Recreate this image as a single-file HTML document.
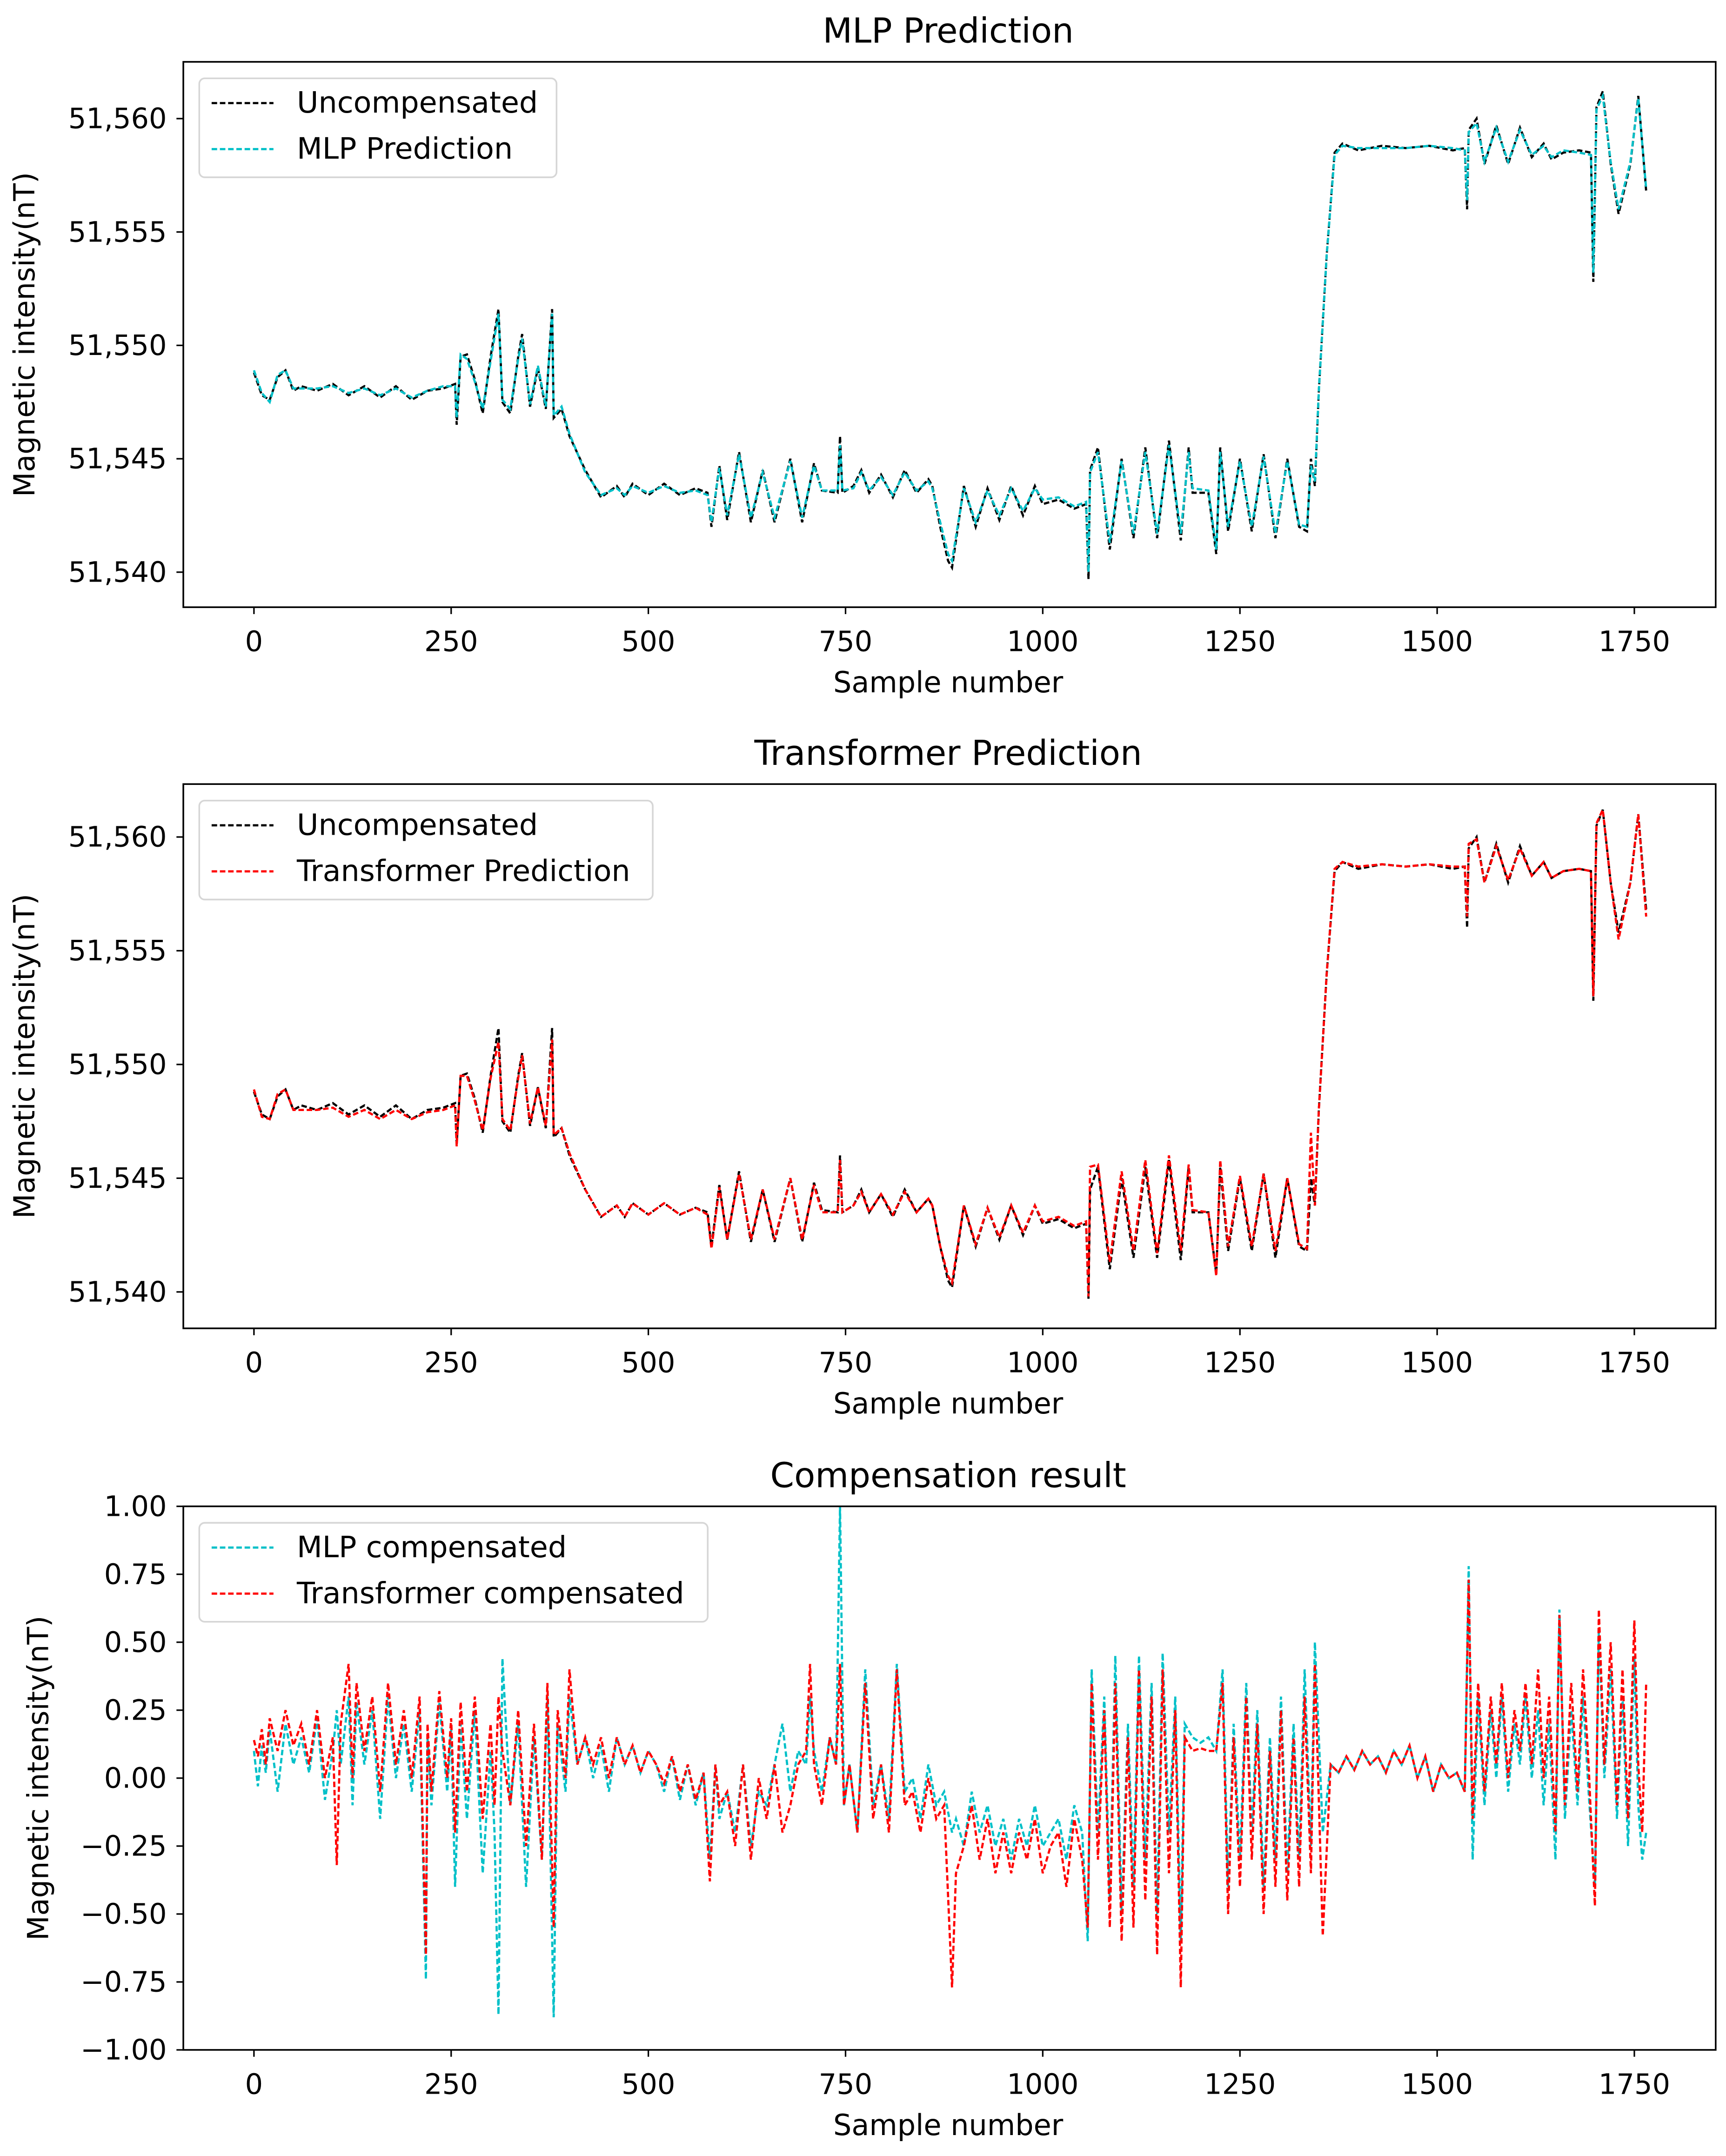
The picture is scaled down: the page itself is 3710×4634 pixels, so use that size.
<!DOCTYPE html>
<html><head><meta charset="utf-8"><style>html,body{margin:0;padding:0;background:#fff}svg{display:block}text{font-family:"DejaVu Sans","Liberation Sans",sans-serif;fill:#000}</style></head>
<body>
<svg id="fig" width="3710" height="4634" viewBox="0 0 1256 1568.7" preserveAspectRatio="none" xmlns="http://www.w3.org/2000/svg"></svg>
<script>
const xTicks=[0,250,500,750,1000,1250,1500,1750];
const yTicksTop=[51540,51545,51550,51555,51560];
const yTicksBottom=[-1,-0.75,-0.5,-0.25,0,0.25,0.5,0.75,1];
const unX=[0,10,20,30,40,50,60,80,100,120,140,160,180,200,220,240,255,257,262,270,280,290,300,310,315,325,335,340,350,360,370,378,380,390,400,420,440,460,470,480,500,520,540,560,575,580,590,600,615,630,645,660,680,695,710,720,740,743,746,760,770,780,795,810,825,840,855,860,870,880,885,900,915,930,945,960,975,990,1000,1020,1040,1055,1058,1060,1070,1085,1100,1115,1130,1145,1160,1175,1185,1190,1210,1220,1225,1235,1250,1265,1280,1295,1310,1325,1335,1340,1345,1350,1360,1370,1380,1400,1430,1460,1490,1520,1535,1538,1540,1550,1560,1575,1590,1605,1620,1635,1645,1660,1680,1695,1698,1702,1710,1720,1730,1745,1755,1765];
const unVals=[51548.8,51547.8,51547.6,51548.6,51548.9,51548.0,51548.2,51548.0,51548.3,51547.8,51548.2,51547.7,51548.2,51547.6,51548.0,51548.1,51548.3,51546.5,51549.5,51549.6,51548.5,51547.0,51549.5,51551.6,51547.5,51547.0,51549.5,51550.5,51547.3,51549.0,51547.2,51551.6,51546.8,51547.2,51546.0,51544.5,51543.3,51543.8,51543.3,51543.9,51543.4,51543.9,51543.4,51543.7,51543.5,51542.0,51544.7,51542.3,51545.3,51542.2,51544.5,51542.2,51545.0,51542.2,51544.8,51543.6,51543.5,51546.0,51543.5,51543.8,51544.5,51543.5,51544.3,51543.3,51544.5,51543.5,51544.1,51543.8,51542.0,51540.5,51540.2,51543.8,51542.0,51543.7,51542.3,51543.8,51542.5,51543.8,51543.0,51543.2,51542.8,51543.0,51539.7,51544.5,51545.5,51541.0,51545.0,51541.5,51545.5,51541.5,51545.8,51541.4,51545.5,51543.5,51543.5,51540.8,51545.5,51541.8,51545.0,51541.8,51545.2,51541.5,51545.0,51542.0,51541.8,51545.0,51543.8,51548.0,51554.0,51558.5,51558.9,51558.6,51558.8,51558.7,51558.8,51558.6,51558.7,51556.0,51559.5,51560.0,51558.0,51559.7,51558.0,51559.6,51558.3,51558.9,51558.2,51558.5,51558.6,51558.5,51552.8,51560.5,51561.2,51558.0,51555.8,51558.0,51561.0,51556.8];
const mlpVals=[51548.9,51547.9,51547.5,51548.7,51548.9,51548.1,51548.1,51548.1,51548.2,51547.9,51548.1,51547.8,51548.1,51547.7,51548.0,51548.2,51548.2,51546.8,51549.6,51549.4,51548.4,51547.2,51549.3,51551.4,51547.6,51547.2,51549.4,51550.3,51547.4,51549.1,51547.3,51551.4,51546.9,51547.3,51546.1,51544.4,51543.4,51543.7,51543.4,51543.8,51543.5,51543.8,51543.5,51543.6,51543.4,51542.2,51544.6,51542.5,51545.2,51542.4,51544.4,51542.4,51544.9,51542.4,51544.7,51543.6,51543.6,51545.6,51543.6,51543.7,51544.4,51543.6,51544.2,51543.4,51544.4,51543.6,51544.0,51543.7,51542.2,51540.8,51540.5,51543.7,51542.2,51543.6,51542.5,51543.7,51542.7,51543.7,51543.2,51543.3,51542.9,51543.1,51540.0,51544.4,51545.3,51541.3,51544.9,51541.7,51545.3,51541.7,51545.6,51541.7,51545.3,51543.7,51543.6,51541.0,51545.3,51542.0,51544.9,51542.0,51545.1,51541.7,51544.9,51542.1,51542.0,51544.7,51544.0,51548.0,51554.0,51558.4,51558.8,51558.7,51558.7,51558.7,51558.8,51558.7,51558.6,51556.4,51559.4,51559.8,51558.1,51559.6,51558.1,51559.5,51558.4,51558.8,51558.3,51558.6,51558.5,51558.4,51553.2,51560.4,51561.0,51558.1,51556.0,51558.1,51560.9,51556.9];
const trfVals=[51548.9,51547.7,51547.6,51548.7,51548.9,51548.0,51548.0,51548.0,51548.1,51547.7,51548.0,51547.6,51548.0,51547.6,51547.9,51548.0,51548.2,51546.4,51549.5,51549.5,51548.4,51547.1,51549.4,51551.0,51547.6,51547.1,51549.4,51550.4,51547.4,51549.0,51547.3,51551.1,51546.9,51547.2,51546.1,51544.5,51543.3,51543.8,51543.3,51543.9,51543.4,51543.9,51543.4,51543.7,51543.4,51541.9,51544.6,51542.3,51545.2,51542.3,51544.5,51542.3,51545.0,51542.3,51544.7,51543.5,51543.5,51545.8,51543.5,51543.8,51544.4,51543.5,51544.3,51543.4,51544.4,51543.5,51544.1,51543.8,51542.0,51540.7,51540.4,51543.8,51542.1,51543.7,51542.4,51543.8,51542.6,51543.8,51543.1,51543.3,51542.9,51543.1,51539.8,51545.5,51545.6,51541.3,51545.3,51541.8,51545.8,51541.7,51546.0,51541.8,51545.6,51543.6,51543.5,51540.7,51545.8,51542.0,51545.1,51542.0,51545.2,51541.8,51545.0,51542.1,51541.9,51547.0,51543.8,51548.0,51554.0,51558.6,51558.9,51558.7,51558.8,51558.7,51558.8,51558.7,51558.7,51556.5,51559.7,51559.9,51558.0,51559.6,51558.1,51559.5,51558.3,51558.9,51558.2,51558.5,51558.6,51558.5,51553.0,51560.6,51561.2,51558.0,51555.5,51558.0,51561.0,51556.5];
const cmpX=[0,5,10,15,20,30,40,50,60,70,80,90,100,105,110,120,125,130,140,150,160,170,180,190,200,210,218,220,225,235,245,250,255,262,270,280,290,300,305,310,315,325,335,345,355,365,372,380,385,395,400,410,420,430,440,450,460,470,480,490,500,510,520,530,540,550,560,570,578,585,590,600,610,620,630,640,650,660,670,680,690,700,705,710,720,730,738,743,748,755,765,775,785,795,805,815,825,835,845,855,865,875,885,890,900,910,920,930,940,950,960,970,980,990,1000,1010,1020,1030,1040,1050,1057,1062,1070,1078,1085,1092,1100,1108,1115,1122,1130,1138,1145,1152,1160,1168,1175,1180,1190,1200,1210,1220,1228,1235,1242,1250,1258,1265,1272,1280,1288,1295,1302,1310,1318,1325,1332,1340,1345,1355,1365,1375,1385,1395,1405,1415,1425,1435,1445,1455,1465,1475,1485,1495,1505,1515,1525,1535,1540,1545,1552,1560,1568,1575,1582,1590,1598,1605,1612,1620,1628,1635,1642,1650,1655,1662,1670,1678,1685,1692,1700,1705,1712,1720,1728,1735,1742,1750,1755,1760,1765];
const mlpComp=[0.10,-0.03,0.12,0.02,0.18,-0.05,0.20,0.05,0.15,0.02,0.22,-0.08,0.10,0.25,0.05,0.30,-0.10,0.28,0.05,0.25,-0.15,0.30,0.00,0.20,-0.05,0.25,-0.74,0.15,-0.10,0.28,-0.05,0.18,-0.40,0.20,-0.15,0.25,-0.35,0.10,-0.20,-0.87,0.44,-0.10,0.20,-0.40,0.15,-0.30,0.30,-0.88,0.20,-0.05,0.30,0.05,0.15,0.00,0.12,-0.05,0.15,0.05,0.12,0.02,0.10,0.05,-0.05,0.08,-0.08,0.05,-0.10,0.02,-0.30,0.05,-0.15,-0.05,-0.20,0.05,-0.25,-0.05,-0.10,0.05,0.20,-0.05,0.10,0.05,0.30,0.10,-0.05,0.15,0.05,1.00,-0.10,0.05,-0.20,0.40,-0.10,0.05,-0.15,0.42,-0.05,0.00,-0.15,0.05,-0.10,-0.05,-0.20,-0.15,-0.25,-0.05,-0.20,-0.10,-0.25,-0.15,-0.30,-0.15,-0.25,-0.10,-0.25,-0.20,-0.15,-0.30,-0.10,-0.20,-0.60,0.40,-0.20,0.30,-0.45,0.45,-0.50,0.20,-0.40,0.45,-0.30,0.35,-0.50,0.46,-0.20,0.30,-0.60,0.20,0.15,0.13,0.15,0.10,0.40,-0.40,0.20,-0.30,0.35,-0.20,0.25,-0.40,0.15,-0.30,0.30,-0.35,0.20,-0.30,0.40,-0.25,0.50,-0.20,0.05,0.02,0.08,0.03,0.10,0.05,0.08,0.02,0.10,0.05,0.12,0.00,0.08,-0.05,0.05,0.00,0.02,-0.05,0.78,-0.30,0.30,-0.10,0.25,0.00,0.30,-0.05,0.20,0.05,0.30,0.00,0.25,-0.10,0.20,-0.30,0.62,-0.15,0.25,-0.10,0.30,-0.05,-0.40,0.55,0.00,0.40,-0.15,0.30,-0.25,0.45,-0.10,-0.30,-0.20];
const trfComp=[0.14,0.08,0.18,0.05,0.22,0.10,0.25,0.12,0.20,0.05,0.25,0.00,0.15,-0.32,0.20,0.42,0.00,0.35,0.10,0.30,-0.05,0.35,0.05,0.25,0.00,0.30,-0.65,0.20,-0.05,0.32,0.00,0.22,-0.20,0.28,-0.05,0.30,-0.15,0.20,-0.10,0.30,0.10,-0.10,0.25,-0.25,0.20,-0.30,0.35,-0.55,0.25,0.00,0.40,0.05,0.15,0.05,0.15,0.00,0.15,0.05,0.12,0.02,0.10,0.05,-0.02,0.08,-0.05,0.05,-0.08,0.02,-0.38,0.05,-0.10,-0.05,-0.25,0.05,-0.30,0.00,-0.15,0.05,-0.20,-0.10,0.05,0.10,0.42,0.05,-0.10,0.15,0.05,0.42,-0.10,0.05,-0.20,0.35,-0.15,0.05,-0.20,0.40,-0.10,-0.05,-0.20,0.00,-0.15,-0.10,-0.77,-0.35,-0.25,-0.10,-0.30,-0.15,-0.35,-0.20,-0.35,-0.20,-0.30,-0.15,-0.35,-0.25,-0.20,-0.40,-0.15,-0.30,-0.55,0.35,-0.30,0.25,-0.55,0.35,-0.60,0.15,-0.55,0.40,-0.45,0.30,-0.65,0.40,-0.35,0.25,-0.77,0.15,0.10,0.11,0.10,0.10,0.35,-0.50,0.15,-0.40,0.30,-0.30,0.20,-0.50,0.10,-0.40,0.25,-0.45,0.15,-0.40,0.30,-0.35,0.42,-0.58,0.05,0.02,0.08,0.03,0.10,0.05,0.08,0.02,0.10,0.05,0.12,0.00,0.08,-0.05,0.05,0.00,0.02,-0.05,0.73,-0.15,0.35,-0.05,0.30,0.05,0.35,0.00,0.25,0.10,0.35,0.05,0.40,0.00,0.30,-0.20,0.60,-0.10,0.35,-0.05,0.40,0.05,-0.47,0.62,0.05,0.50,-0.10,0.40,-0.15,0.58,0.05,-0.20,0.35];

const NS='http://www.w3.org/2000/svg';
const svg=document.getElementById('fig');
function el(tag,attrs,parent){const e=document.createElementNS(NS,tag);for(const k in attrs)e.setAttribute(k,attrs[k]);(parent||svg).appendChild(e);return e;}
const L=133.4,R=1248.5;
const xScale=v=>184.8+v/250*143.5;
function fmtBig(v){return String(v).replace(/(\d{2})(\d{3})$/,'$1,$2');}
function fmtSmall(v){return (v<0?'\u2212':'')+Math.abs(v).toFixed(2);}

function panel(cfg){
  const g=el('g',{});
  
  
  const yScale=v=>cfg.yPix0+(v-cfg.yv0)/(cfg.yv1-cfg.yv0)*(cfg.yPix1-cfg.yPix0);
  const t=el('text',{x:690,y:cfg.top-14,'font-size':25,'text-anchor':'middle'},g);t.textContent=cfg.title;
  
  
  const clip=el('clipPath',{id:'c'+cfg.id},g);el('rect',{x:L,y:cfg.top,width:R-L,height:cfg.bot-cfg.top},clip);
  const lines=el('g',{'clip-path':'url(#c'+cfg.id+')'},g);
  cfg.series.forEach(s=>{
    let d='';s.xs.forEach((x,i)=>{d+=(i?'L':'M')+xScale(x).toFixed(2)+','+yScale(s.ys[i]).toFixed(2);});
    const p=el('path',{d:d,fill:'none',stroke:s.color,'stroke-width':1.6,'stroke-dasharray':'4,2'},lines);
    
    
  });
  const frame=el('rect',{x:L,y:cfg.top,width:R-L,height:cfg.bot-cfg.top,fill:'none',stroke:'#000','stroke-width':1.2},g);
  
  
  xTicks.forEach(v=>{const x=xScale(v);el('line',{x1:x,x2:x,y1:cfg.bot,y2:cfg.bot+5,stroke:'#000','stroke-width':1.1},g);
    const tx=el('text',{x:x,y:cfg.bot+32,'font-size':20.5,'text-anchor':'middle'},g);tx.textContent=v;
    
    });
  cfg.yTicks.forEach(v=>{const y=yScale(v);el('line',{x1:L-5,x2:L,y1:y,y2:y,stroke:'#000','stroke-width':1.1},g);
    const ty=el('text',{x:L-12,y:y+7,'font-size':20.5,'text-anchor':'end'},g);ty.textContent=cfg.fmt(v);
    
    });
  const xl=el('text',{x:690,y:cfg.bot+62,'font-size':21,'text-anchor':'middle'},g);xl.textContent='Sample number';
  
  
  const cy=(cfg.top+cfg.bot)/2;
  const yl=el('text',{x:cfg.ylx,y:cy,'font-size':21,'text-anchor':'middle',transform:'rotate(-90 '+cfg.ylx+' '+cy+')'},g);yl.textContent='Magnetic intensity(nT)';
  
  
  const lg=el('g',{},g);
  
  
  el('rect',{x:145,y:cfg.top+12,width:cfg.legW,height:72,rx:4,fill:'#fff','fill-opacity':0.8,stroke:'#d6d6d6','stroke-width':1.2},lg);
  cfg.series.forEach((s,i)=>{const y=cfg.top+30+i*33.5;
    el('line',{x1:154,x2:199,y1:y,y2:y,stroke:s.color,'stroke-width':1.6,'stroke-dasharray':'4,2'},lg);
    const lt=el('text',{x:216,y:y+7,'font-size':21.5},lg);lt.textContent=s.label;
    
    });
}
panel({id:1,name:'mlp-prediction-panel',title:'MLP Prediction',top:45,bot:441.8,yv0:51560,yPix0:86.3,yv1:51540,yPix1:416.3,yTicks:yTicksTop,fmt:fmtBig,ylx:25,legW:260,
  series:[{key:'uncompensated',label:'Uncompensated',color:'#000',xs:unX,ys:unVals},{key:'mlp-prediction',label:'MLP Prediction',color:'#00c0c8',xs:unX,ys:mlpVals}]});
panel({id:2,name:'transformer-prediction-panel',title:'Transformer Prediction',top:570.5,bot:966.5,yv0:51560,yPix0:609,yv1:51540,yPix1:940,yTicks:yTicksTop,fmt:fmtBig,ylx:25,legW:330,
  series:[{key:'uncompensated',label:'Uncompensated',color:'#000',xs:unX,ys:unVals},{key:'transformer-prediction',label:'Transformer Prediction',color:'#ff0000',xs:unX,ys:trfVals}]});
panel({id:3,name:'compensation-result-panel',title:'Compensation result',top:1096,bot:1491.5,yv0:1,yPix0:1096,yv1:-1,yPix1:1491.5,yTicks:yTicksBottom,fmt:fmtSmall,ylx:35,legW:370,
  series:[{key:'mlp-compensated',label:'MLP compensated',color:'#00c0c8',xs:cmpX,ys:mlpComp},{key:'transformer-compensated',label:'Transformer compensated',color:'#ff0000',xs:cmpX,ys:trfComp}]});
</script>
</body></html>
